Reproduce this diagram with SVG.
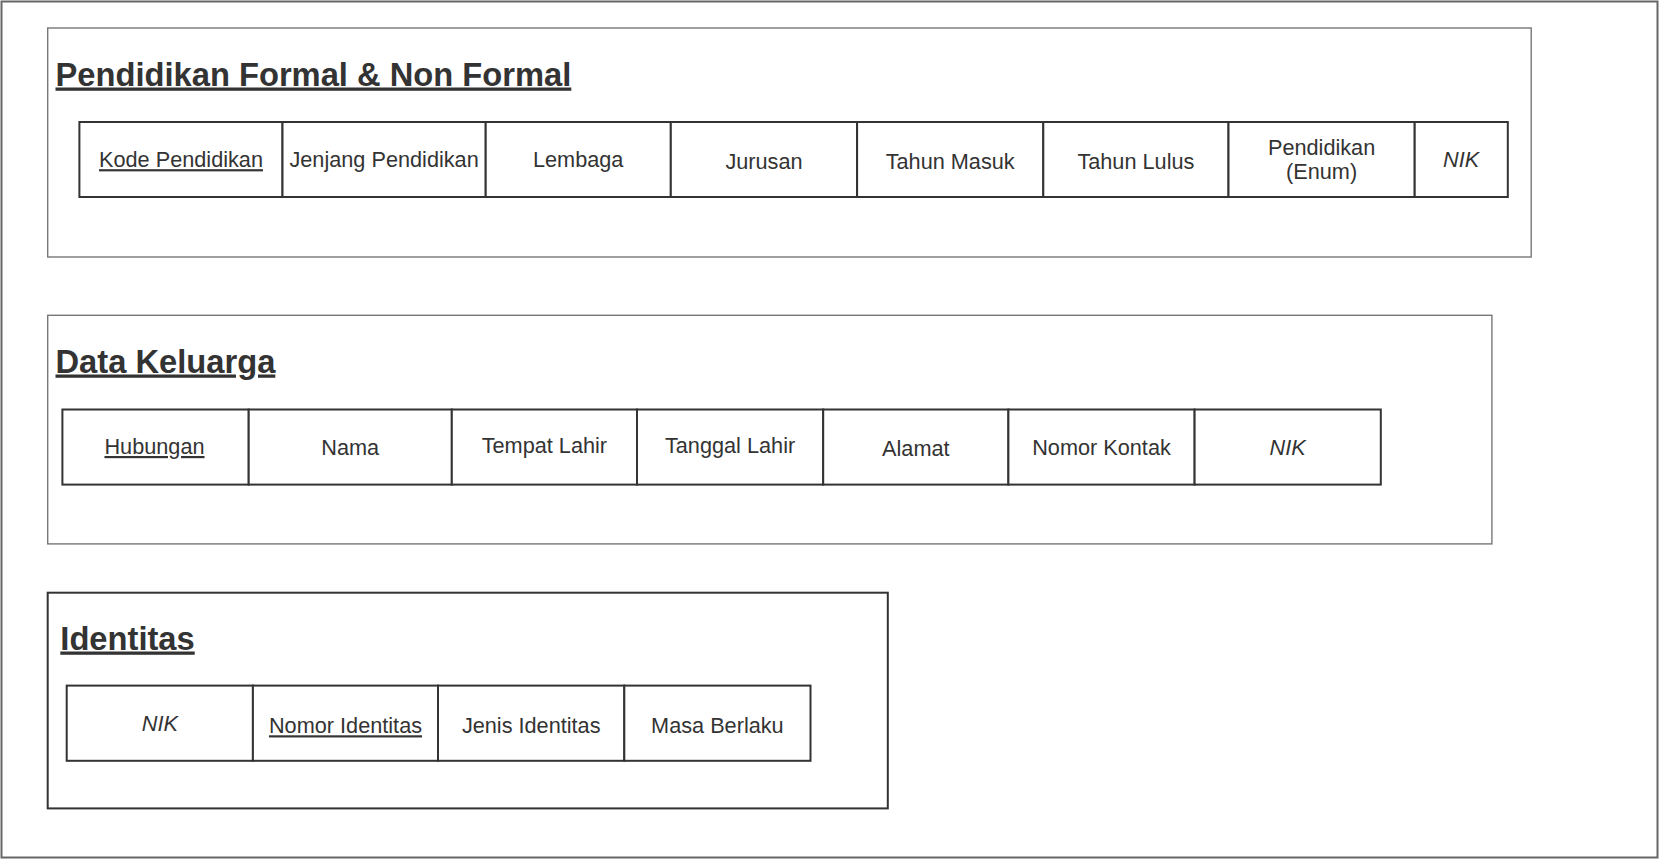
<svg xmlns="http://www.w3.org/2000/svg" width="1659" height="860" viewBox="0 0 1659 860">
<style>
.frame{fill:#fff;stroke:#666;stroke-width:2}
.box{fill:none;stroke:#777;stroke-width:1.4}
.box3{fill:none;stroke:#333;stroke-width:2}
.cell{fill:#fff;stroke:#333;stroke-width:2}
.title{font-family:"Liberation Sans",Arial,sans-serif;font-size:32.7px;font-weight:bold;fill:#333;text-decoration:underline}
.t{font-family:"Liberation Sans",Arial,sans-serif;font-size:21.7px;fill:#333;text-anchor:middle}
.u{text-decoration:underline}
.i{font-style:italic}
</style>
<rect x="0" y="0" width="1659" height="860" fill="#fff"/>
<rect class="frame" x="1.5" y="1.5" width="1656" height="856"/>

<g id="pendidikan">
<rect class="box" x="47.7" y="28" width="1483.5" height="229"/>
<text class="title" x="55.5" y="85.5">Pendidikan Formal &amp; Non Formal</text>
<g id="p-kode"><rect class="cell" x="79.4" y="122" width="203.1" height="75"/><text class="t u" x="181" y="167.2">Kode Pendidikan</text></g>
<g id="p-jenjang"><rect class="cell" x="282.5" y="122" width="203.2" height="75"/><text class="t" x="384.1" y="167.2">Jenjang Pendidikan</text></g>
<g id="p-lembaga"><rect class="cell" x="485.7" y="122" width="185.1" height="75"/><text class="t" x="578.2" y="167.2">Lembaga</text></g>
<g id="p-jurusan"><rect class="cell" x="670.8" y="122" width="186.3" height="75"/><text class="t" x="764" y="169.3">Jurusan</text></g>
<g id="p-masuk"><rect class="cell" x="857.1" y="122" width="186.2" height="75"/><text class="t" x="950.2" y="169.3">Tahun Masuk</text></g>
<g id="p-lulus"><rect class="cell" x="1043.3" y="122" width="185.2" height="75"/><text class="t" x="1135.9" y="169.3">Tahun Lulus</text></g>
<g id="p-enum"><rect class="cell" x="1228.5" y="122" width="186.2" height="75"/><text class="t" x="1321.6" y="154.8">Pendidikan</text><text class="t" x="1321.6" y="178.8">(Enum)</text></g>
<g id="p-nik"><rect class="cell" x="1414.7" y="122" width="93.1" height="75"/><text class="t i" x="1461.2" y="167.2">NIK</text></g>
</g>

<g id="keluarga">
<rect class="box" x="47.7" y="315.3" width="1444.2" height="228.6"/>
<text class="title" x="55.5" y="372.5">Data Keluarga</text>
<g id="k-hubungan"><rect class="cell" x="62.4" y="409.5" width="186.3" height="75.1"/><text class="t u" x="154.5" y="454">Hubungan</text></g>
<g id="k-nama"><rect class="cell" x="248.7" y="409.5" width="203.1" height="75.1"/><text class="t" x="350.2" y="455">Nama</text></g>
<g id="k-tempat"><rect class="cell" x="451.8" y="409.5" width="185.2" height="75.1"/><text class="t" x="544.4" y="452.9">Tempat Lahir</text></g>
<g id="k-tanggal"><rect class="cell" x="637" y="409.5" width="186.2" height="75.1"/><text class="t" x="730.1" y="452.9">Tanggal Lahir</text></g>
<g id="k-alamat"><rect class="cell" x="823.2" y="409.5" width="185.2" height="75.1"/><text class="t" x="915.8" y="456.1">Alamat</text></g>
<g id="k-kontak"><rect class="cell" x="1008.4" y="409.5" width="186.2" height="75.1"/><text class="t" x="1101.5" y="455">Nomor Kontak</text></g>
<g id="k-nik"><rect class="cell" x="1194.6" y="409.5" width="186.2" height="75.1"/><text class="t i" x="1287.7" y="455">NIK</text></g>
</g>

<g id="identitas">
<rect class="box3" x="47.7" y="592.7" width="840.1" height="215.7"/>
<text class="title" x="60.3" y="649.5">Identitas</text>
<g id="i-nik"><rect class="cell" x="66.7" y="685.6" width="186.2" height="75.2"/><text class="t i" x="159.8" y="731.2">NIK</text></g>
<g id="i-nomor"><rect class="cell" x="252.9" y="685.6" width="185.1" height="75.2"/><text class="t u" x="345.5" y="733.3">Nomor Identitas</text></g>
<g id="i-jenis"><rect class="cell" x="438" y="685.6" width="186.3" height="75.2"/><text class="t" x="531.2" y="733.3">Jenis Identitas</text></g>
<g id="i-masa"><rect class="cell" x="624.3" y="685.6" width="186.2" height="75.2"/><text class="t" x="717.4" y="733.3">Masa Berlaku</text></g>
</g>

<g id="connectors"></g>
</svg>
